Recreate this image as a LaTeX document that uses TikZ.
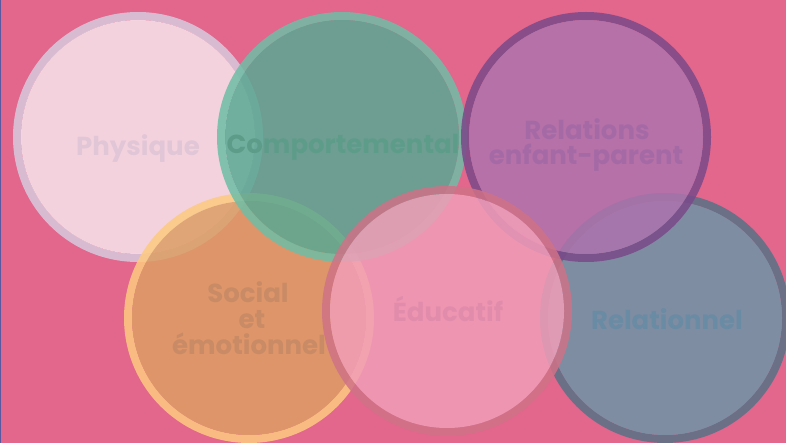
\documentclass[tikz,border=0pt]{standalone}
\usepackage{fontspec}
\setmainfont{Poppins}
\definecolor{bg}{RGB}{227,102,140}
\definecolor{edgeline}{RGB}{92,88,160}
\definecolor{physF}{RGB}{248,230,236}
\definecolor{physR}{RGB}{215,203,222}
\definecolor{physT}{RGB}{224,198,214}
\definecolor{compF}{RGB}{89,168,146}
\definecolor{compR}{RGB}{111,190,166}
\definecolor{compT}{RGB}{94,156,138}
\definecolor{relaF}{RGB}{173,115,173}
\definecolor{relaR}{RGB}{122,73,138}
\definecolor{relaT}{RGB}{165,106,166}
\definecolor{socF}{RGB}{220,158,100}
\definecolor{socR}{RGB}{253,202,128}
\definecolor{socT}{RGB}{201,138,102}
\definecolor{eduF}{RGB}{241,158,184}
\definecolor{eduR}{RGB}{207,114,135}
\definecolor{eduT}{RGB}{226,140,172}
\definecolor{relnF}{RGB}{109,148,167}
\definecolor{relnR}{RGB}{87,114,135}
\definecolor{relnT}{RGB}{106,139,164}
\tikzset{
  lbl/.style={anchor=base, inner sep=0pt, font=\fontsize{26}{26}\selectfont\bfseries},
}
\newcommand{\bubble}[3]{% center, fill colour, ring colour
  \fill[#3, fill opacity=0.85, even odd rule] (#1) circle (125) (#1) circle (117);
  \fill[#2, fill opacity=0.85] (#1) circle (117);
}
\begin{document}
\begin{tikzpicture}[x=1pt,y=-1pt]
\fill[bg] (0,0) rectangle (786,443);
\useasboundingbox (0,0) rectangle (786,443);
\draw[edgeline, line width=1.2pt] (0.6,0) -- (0.6,443);
\coordinate (cphys) at (138,137);
\coordinate (ccomp) at (342,137);
\coordinate (crela) at (586,137);
\coordinate (csoc) at (249,318);
\coordinate (cedu) at (447,311);
\coordinate (creln) at (665,318);
% Physique
\bubble{cphys}{physF}{physR}
\node[lbl, text=physT] (tphys) at (138,156) {Physique};
% Social et emotionnel
\bubble{csoc}{socF}{socR}
\node[lbl, text=socT] (tsoc1) at (248,302) {Social};
\node[lbl, text=socT] (tsoc2) at (252,328) {et};
\node[lbl, text=socT] (tsoc3) at (249,354) {émotionnel};
% Comportemental
\bubble{ccomp}{compF}{compR}
\node[lbl, text=compT] (tcomp) at (343,154) {Comportemental};
% Relationnel
\bubble{creln}{relnF}{relnR}
\node[lbl, text=relnT] (treln) at (667,329) {Relationnel};
% Relations enfant-parent
\bubble{crela}{relaF}{relaR}
\node[lbl, text=relaT] (trela1) at (587,140) {Relations};
\node[lbl, text=relaT] (trela2) at (586,165) {enfant-parent};
% Educatif
\bubble{cedu}{eduF}{eduR}
\node[lbl, text=eduT] (tedu) at (448,321) {Éducatif};
\end{tikzpicture}
\end{document}
